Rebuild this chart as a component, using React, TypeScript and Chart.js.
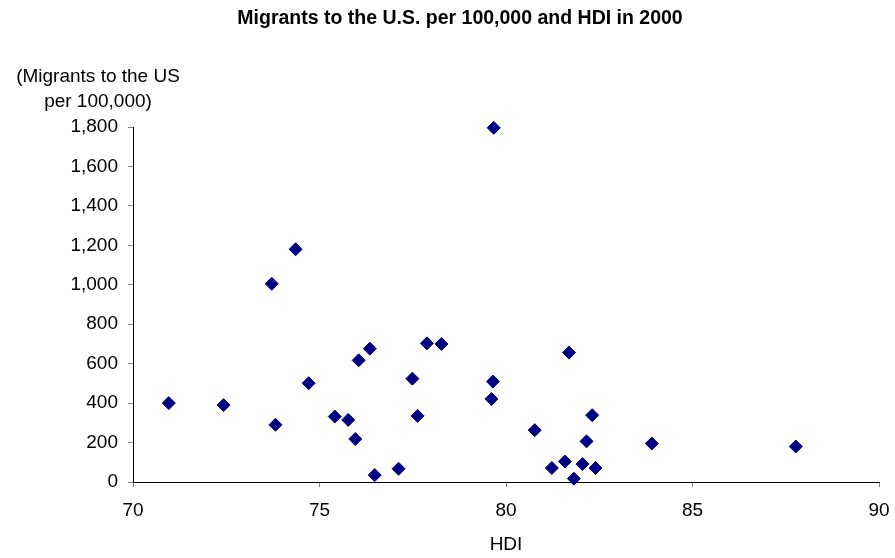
import React, { useEffect, useRef } from "react";
import { Chart, registerables } from "chart.js";

Chart.register(...registerables);

const chartTitle = "Migrants to the U.S. per 100,000 and HDI in 2000";
const yTitleLines = ["(Migrants to the US", "per 100,000)"];
const xTitle = "HDI";

const hdi = [70.96, 72.43, 73.72, 74.36, 73.82, 74.71, 75.41, 75.77, 75.96, 76.05, 76.35, 76.48, 77.12, 77.49, 77.63, 77.88, 78.27, 79.67, 79.65, 79.61, 81.69, 82.31, 80.77, 82.16, 83.91, 87.77, 81.58, 81.23, 82.05, 82.4, 81.82];
const migrants = [400, 390, 1005, 1180, 290, 501, 332, 315, 218, 617, 676, 35, 67, 524, 335, 703, 700, 1796, 509, 421, 656, 339, 263, 206, 195, 180, 104, 71, 91, 71, 17];

const FONT = "'Liberation Sans', Arial, sans-serif";

export default function App() {
  const ref = useRef<HTMLCanvasElement | null>(null);
  useEffect(() => {
    document.body.style.margin = "0";
    const canvas = ref.current!;
    const textPlugin = {
      id: "texts",
      afterDraw(chart: any) {
        const ctx = chart.ctx;
        const area = chart.chartArea;
        ctx.save();
        ctx.fillStyle = "#000";
        ctx.textAlign = "center";
        ctx.textBaseline = "middle";
        ctx.font = `bold 19.5px ${FONT}`;
        ctx.fillText(chartTitle, 460, 19);
        ctx.font = `19px ${FONT}`;
        ctx.fillText(yTitleLines[0], 98, 77);
        ctx.fillText(yTitleLines[1], 98, 102);
        ctx.fillText(xTitle, (area.left + area.right) / 2, 545);
        ctx.restore();
      },
    };
    const chart = new Chart(canvas, {
      type: "scatter",
      data: {
        datasets: [
          {
            data: hdi.map((x, i) => ({ x, y: migrants[i] })),
            backgroundColor: "#000080",
            borderColor: "#000080",
            borderWidth: 1,
            pointStyle: "rectRot",
            pointRadius: 6.5,
            clip: false as any,
          },
        ],
      },
      options: {
        animation: false,
        responsive: false,
        devicePixelRatio: 1,
        layout: { autoPadding: false, padding: { top: 127, right: 16, bottom: 0, left: 0 } },
        plugins: { legend: { display: false }, tooltip: { enabled: false }, title: { display: false } },
        scales: {
          x: {
            type: "linear",
            min: 70,
            max: 90,
            afterFit: (s: any) => { s.height = 76; s.paddingRight = 16; s.paddingLeft = 0; },
            ticks: { stepSize: 5, color: "#000", font: { family: FONT, size: 19 }, padding: 12, maxRotation: 0 },
            grid: { drawOnChartArea: false, drawTicks: true, tickLength: 5, color: "#808080" },
            border: { display: true, color: "#000", width: 1 },
          },
          y: {
            type: "linear",
            min: 0,
            max: 1800,
            afterFit: (s: any) => { s.width = 133; s.paddingTop = 0; s.paddingBottom = 0; },
            ticks: { stepSize: 200, color: "#000", font: { family: FONT, size: 19 }, padding: 10 },
            grid: { drawOnChartArea: false, drawTicks: true, tickLength: 5, color: "#808080" },
            border: { display: true, color: "#000", width: 1 },
          },
        },
      },
      plugins: [textPlugin],
    });
    return () => chart.destroy();
  }, []);
  return <canvas ref={ref} width={895} height={558} style={{ display: "block" }} />;
}
